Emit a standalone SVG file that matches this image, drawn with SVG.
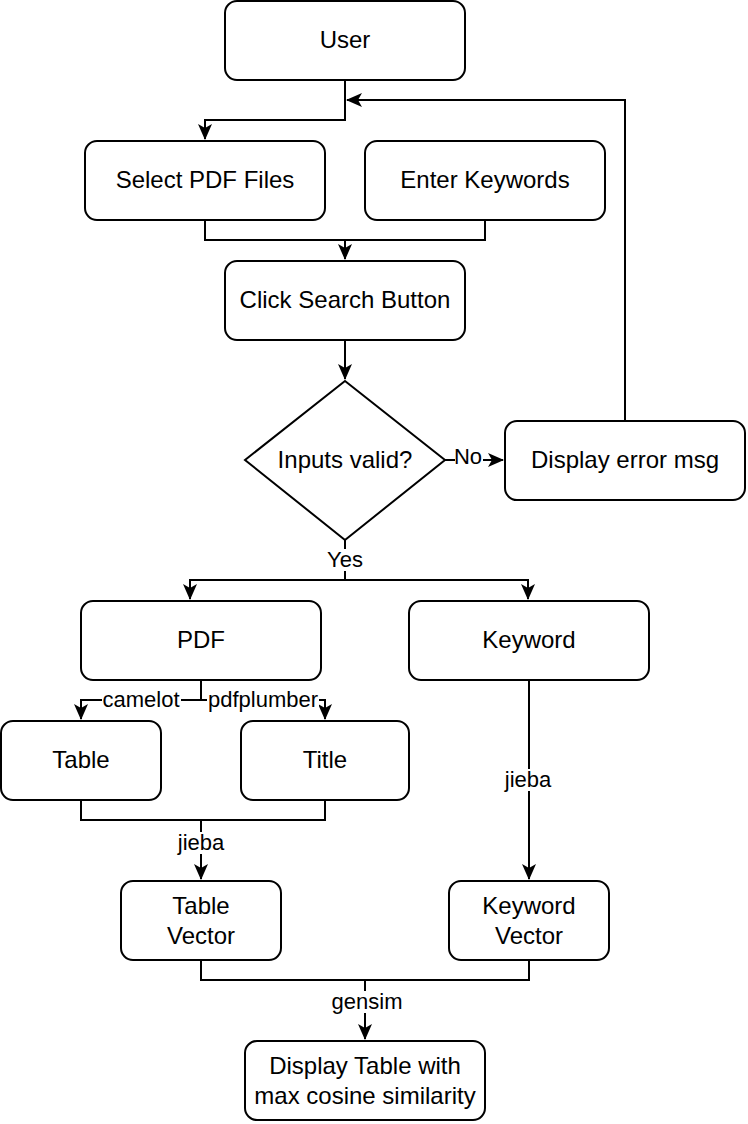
<svg xmlns="http://www.w3.org/2000/svg" width="748" height="1124" viewBox="0 0 748 1124">
<style>
.n{fill:#fff;stroke:#000;stroke-width:2}
.t{font-family:"Liberation Sans",Arial,sans-serif;font-size:24px;fill:#000;text-anchor:middle}
.e{fill:none;stroke:#000;stroke-width:2}
.l{font-family:"Liberation Sans",Arial,sans-serif;font-size:22px;fill:#000;text-anchor:middle}
.lb{fill:#fff}
</style>
<defs>
<marker id="arr" markerUnits="userSpaceOnUse" viewBox="0 0 16 14" markerWidth="16" markerHeight="14" refX="15" refY="7" orient="auto">
<path d="M0,0 L16,7 L0,14 L4,7 Z" fill="#000"/>
</marker>
</defs>
<g id="connectors">
<path class="e" d="M345,80 V120 H205 V139" marker-end="url(#arr)"/>
<path class="e" d="M625,421 V100 H347" marker-end="url(#arr)"/>
<path class="e" d="M205,220 V240 H345 V259" marker-end="url(#arr)"/>
<path class="e" d="M485,220 V240 H345"/>
<path class="e" d="M345,340 V379" marker-end="url(#arr)"/>
<path class="e" d="M445,460 H503" marker-end="url(#arr)"/>
<path class="e" d="M345,540 V580 H190 V599" marker-end="url(#arr)"/>
<path class="e" d="M345,580 H528 V599" marker-end="url(#arr)"/>
<path class="e" d="M201,680 V700 H81 V719" marker-end="url(#arr)"/>
<path class="e" d="M201,700 H325 V719" marker-end="url(#arr)"/>
<path class="e" d="M81,800 V820 H325 V800"/>
<path class="e" d="M201,820 V879" marker-end="url(#arr)"/>
<path class="e" d="M529,680 V879" marker-end="url(#arr)"/>
<path class="e" d="M201,960 V980 H529 V960"/>
<path class="e" d="M365,980 V1039" marker-end="url(#arr)"/>
<rect class="lb" x="455" y="448" width="28" height="22"/>
<text class="l" x="468" y="464">No</text>
<rect class="lb" x="325" y="549" width="40" height="22"/>
<text class="l" x="345" y="567">Yes</text>
<rect class="lb" x="102" y="689" width="79" height="22"/>
<text class="l" x="141" y="707">camelot</text>
<rect class="lb" x="207" y="689" width="112" height="22"/>
<text class="l" x="263" y="707">pdfplumber</text>
<rect class="lb" x="177" y="832" width="48" height="22"/>
<text class="l" x="201" y="850">jieba</text>
<rect class="lb" x="504" y="769" width="48" height="22"/>
<text class="l" x="528" y="787">jieba</text>
<rect class="lb" x="331" y="991" width="72" height="22"/>
<text class="l" x="367" y="1009">gensim</text>
</g>
<g id="user"><rect class="n" x="225" y="1" width="240" height="79" rx="12"/><text class="t" x="345" y="48">User</text></g>
<g id="selectPdf"><rect class="n" x="85" y="141" width="240" height="79" rx="12"/><text class="t" x="205" y="188">Select PDF Files</text></g>
<g id="enterKeywords"><rect class="n" x="365" y="141" width="240" height="79" rx="12"/><text class="t" x="485" y="188">Enter Keywords</text></g>
<g id="clickSearch"><rect class="n" x="225" y="261" width="240" height="79" rx="12"/><text class="t" x="345" y="308">Click Search Button</text></g>
<g id="inputsValid"><path class="n" d="M345,381 L445,460 L345,540 L245,460 Z"/><text class="t" x="345" y="468">Inputs valid?</text></g>
<g id="errorMsg"><rect class="n" x="505" y="421" width="240" height="79" rx="12"/><text class="t" x="625" y="468">Display error msg</text></g>
<g id="pdf"><rect class="n" x="81" y="601" width="240" height="79" rx="12"/><text class="t" x="201" y="648">PDF</text></g>
<g id="keyword"><rect class="n" x="409" y="601" width="240" height="79" rx="12"/><text class="t" x="529" y="648">Keyword</text></g>
<g id="table"><rect class="n" x="1" y="721" width="160" height="79" rx="12"/><text class="t" x="81" y="768">Table</text></g>
<g id="title"><rect class="n" x="241" y="721" width="168" height="79" rx="12"/><text class="t" x="325" y="768">Title</text></g>
<g id="tableVector"><rect class="n" x="121" y="881" width="160" height="79" rx="12"/><text class="t" x="201" y="914">Table</text><text class="t" x="201" y="944">Vector</text></g>
<g id="keywordVector"><rect class="n" x="449" y="881" width="160" height="79" rx="12"/><text class="t" x="529" y="914">Keyword</text><text class="t" x="529" y="944">Vector</text></g>
<g id="displayTable"><rect class="n" x="245" y="1041" width="240" height="79" rx="12"/><text class="t" x="365" y="1074">Display Table with</text><text class="t" x="365" y="1104">max cosine similarity</text></g>
</svg>
